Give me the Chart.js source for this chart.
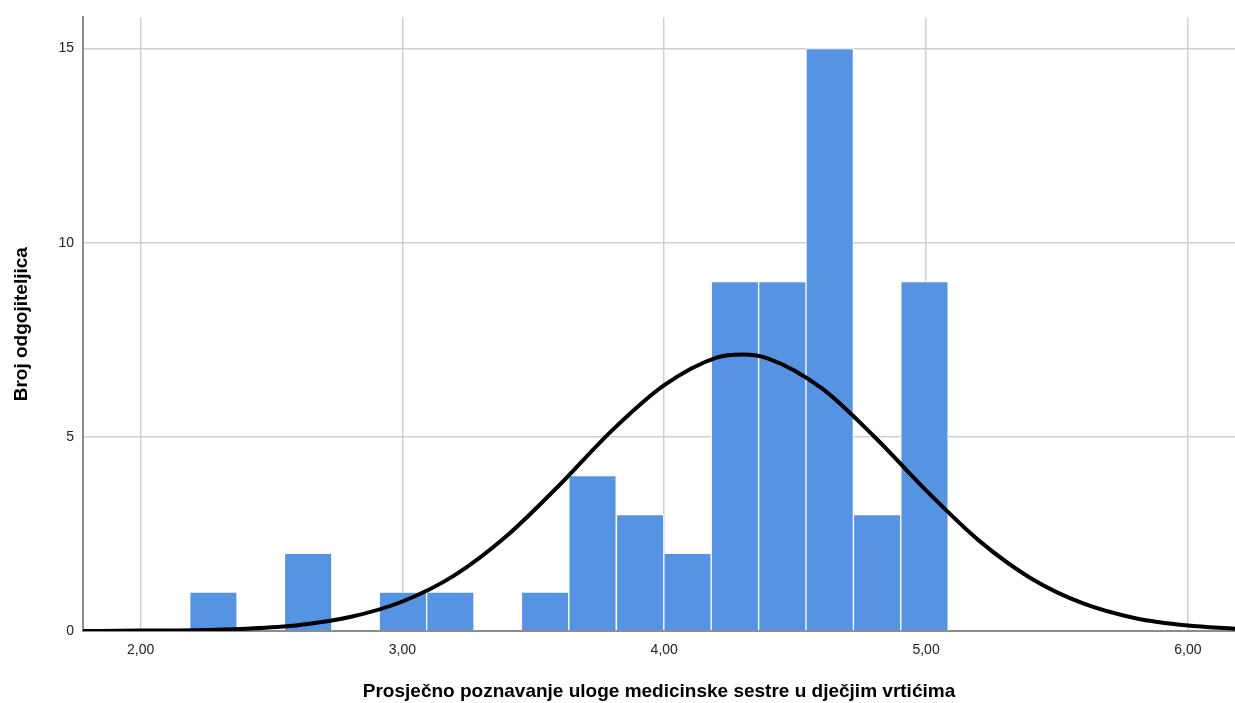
<!DOCTYPE html>
<html>
<head>
<meta charset="utf-8">
<script src="https://cdn.jsdelivr.net/npm/chart.js@4"></script>
<style>
  html, body { margin: 0; padding: 0; background: #fff; }
  #wrap { width: 1235px; height: 703px; }
</style>
</head>
<body>
<div id="wrap"><canvas id="histogram"></canvas></div>
<script>
// Histogram bins (centres) and counts
const binCenters = [2.278, 2.459, 2.640, 2.821, 3.002, 3.183, 3.364, 3.545,
                    3.726, 3.908, 4.089, 4.270, 4.451, 4.632, 4.813, 4.994];
const binCounts  = [1, 0, 2, 0, 1, 1, 0, 1, 4, 3, 2, 9, 9, 15, 3, 9];

// Normal curve, values
const curveX = [1.78, 2.0, 2.2, 2.4, 2.6, 2.8, 3.0, 3.2, 3.4, 3.6, 3.8, 4.0,
                4.2, 4.3, 4.4, 4.6, 4.8, 5.0, 5.2, 5.4, 5.6, 5.8, 6.0, 6.18];
const curveY = [0.00, 0.01, 0.02, 0.06, 0.15, 0.36, 0.76, 1.44, 2.46, 3.76, 5.16, 6.33,
                7.04, 7.12, 7.01, 6.26, 5.02, 3.62, 2.34, 1.36, 0.71, 0.33, 0.14, 0.06];

// Axis ticks
const xTicks = [2, 3, 4, 5, 6];
const yTicks = [0, 5, 10, 15];

const xTitle = 'Prosječno poznavanje uloge medicinske sestre u dječjim vrtićima';
const yTitle = 'Broj odgojiteljica';

const FONT = 'Arial, "Liberation Sans", sans-serif';

const barData = binCenters.map((x, i) => ({ x: x, y: binCounts[i] }));
const curveData = curveX.map((x, i) => ({ x: x, y: curveY[i] }));

const ctx = document.getElementById('histogram').getContext('2d');
new Chart(ctx, {
    data: {
        datasets: [
            {
                type: 'line',
                data: curveData,
                borderColor: '#000',
                borderWidth: 4,
                pointRadius: 0,
                cubicInterpolationMode: 'monotone',
                fill: false,
                order: 0
            },
            {
                type: 'bar',
                data: barData,
                backgroundColor: '#5694e3',
                borderColor: '#ffffff',
                borderWidth: 1,
                barPercentage: 1,
                categoryPercentage: 1,
                grouped: false,
                order: 1
            }
        ]
    },
    options: {
        responsive: true,
        maintainAspectRatio: false,
        animation: false,
        layout: { padding: { top: 17, right: 0, bottom: 0, left: 0 } },
        plugins: { legend: { display: false }, tooltip: { enabled: false } },
        scales: {
            x: {
                type: 'linear',
                min: 1.78,
                max: 6.18,
                offset: false,
                afterBuildTicks: (scale) => { scale.ticks = xTicks.map(v => ({ value: v })); },
                afterFit: (scale) => { scale.height = 72; },
                grid: { color: '#cfcfcf', lineWidth: 1.5, drawTicks: false, offset: false },
                border: { color: '#8c8c8c', width: 2 },
                ticks: {
                    color: '#222',
                    padding: 11,
                    maxRotation: 0,
                    font: { family: FONT, size: 14 },
                    callback: (v) => Number(v).toFixed(2).replace('.', ',')
                },
                title: {
                    display: true,
                    text: xTitle,
                    color: '#000',
                    padding: { top: 0, bottom: 0 },
                    font: { family: FONT, size: 19, weight: 'bold' }
                }
            },
            y: {
                min: 0,
                max: 15.8,
                afterBuildTicks: (scale) => { scale.ticks = yTicks.map(v => ({ value: v })); },
                afterFit: (scale) => { scale.width = 83; },
                grid: { color: '#cfcfcf', lineWidth: 1.5, drawTicks: false },
                border: { color: '#8c8c8c', width: 2 },
                ticks: {
                    color: '#222',
                    padding: 9,
                    font: { family: FONT, size: 14 }
                },
                title: {
                    display: true,
                    text: yTitle,
                    color: '#000',
                    padding: { top: 10, bottom: 0 },
                    font: { family: FONT, size: 19, weight: 'bold' }
                }
            }
        }
    }
});
</script>
</body>
</html>
